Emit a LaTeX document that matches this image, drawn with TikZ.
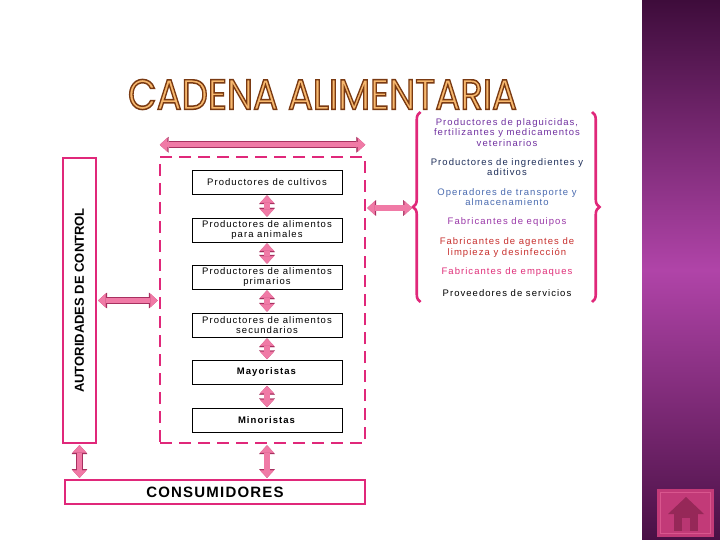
\documentclass[tikz,border=0pt]{standalone}
\usepackage{fontspec}
\setmainfont{Liberation Sans}
\newfontfamily\titlefont{Poppins}
\usepackage{graphicx}
\usetikzlibrary{arrows.meta, decorations.pathreplacing, positioning}
\definecolor{chainpink}{HTML}{E0287A}
\definecolor{arrowfill}{HTML}{F07AA6}
\definecolor{arrowedge}{HTML}{A83060}
\definecolor{titlefill}{HTML}{F7B86E}
\definecolor{sidetop}{HTML}{3E0C3B}
\definecolor{sidemid}{HTML}{B044A8}
\definecolor{sidebot}{HTML}{4A1045}
\definecolor{homefill}{HTML}{C23A78}
\definecolor{homeedge}{HTML}{D9568E}
\definecolor{housecol}{HTML}{962858}
\definecolor{txtpurple}{HTML}{7030A0}
\definecolor{txtnavy}{HTML}{1F2F5A}
\definecolor{txtblue}{HTML}{4A6BB0}
\definecolor{txtviolet}{HTML}{9A38A8}
\definecolor{txtred}{HTML}{C8302E}
\definecolor{txtpink}{HTML}{E0307A}
% outlined letters for the title
\newcommand\outlined[1]{\special{pdf:literal 2 Tr 0.35 w 0.478 0.227 0.071 RG}#1\special{pdf:literal 0 Tr}}
\begin{document}
\begin{tikzpicture}[x=1pt, y=-1pt,
    stage/.style={draw=black, line width=0.6pt, fill=white, minimum width=150pt, minimum height=24pt,
      inner sep=1pt, align=center, font=\fontsize{9.5}{10.5}\selectfont\addfontfeature{LetterSpace=11}},
    supplier/.style={align=center, inner sep=0.5pt, font=\fontsize{9.5}{10.6}\selectfont\addfontfeature{LetterSpace=11}},
    pinkbox/.style={draw=chainpink, line width=2.2pt, fill=white, inner sep=1pt},
    biarrow/.style={arrowfill, line width=5.5pt, shorten <=1pt, shorten >=1pt,
      {Triangle[length=7.5pt,width=14pt,line width=0.4pt]}-{Triangle[length=7.5pt,width=14pt,line width=0.4pt]},
      preaction={draw=arrowedge, line width=6.9pt,
        {Triangle[length=8.9pt,width=15.8pt,line width=0.4pt]}-{Triangle[length=8.9pt,width=15.8pt,line width=0.4pt]}}},
    curly/.style={draw=chainpink, line width=2.6pt, decorate, decoration={brace, amplitude=7.5pt}}]
	\fill[white] (0,0) rectangle (720,540);
	\useasboundingbox (0,0) rectangle (720,540);
	% side band and home button
	\shade[top color=sidetop, bottom color=sidebot, middle color=sidemid] (642,0) rectangle (720,540);
	\fill[homefill] (657,489) rectangle (714,537);
	\draw[homeedge, line width=1.2pt] (660.5,492.5) rectangle (710.5,533.5);
	\fill[housecol] (686,497) -- (668,514) -- (704,514) -- cycle;
	\fill[housecol] (674,512) rectangle (698,531);
	\fill[homefill!80!housecol] (682,518) rectangle (690,531);
	% title
	\node[inner sep=0pt] (title) at (322.5,94.5) {\resizebox{389pt}{30pt}{\titlefont\color{titlefill}\outlined{CADENA ALIMENTARIA}}};
	% control and consumers
	\node[pinkbox, rotate=90, minimum width=285pt, minimum height=33pt, font=\bfseries\fontsize{13}{13}\selectfont] (ctl) at (79.5,300.5) {AUTORIDADES DE CONTROL};
	\node[pinkbox, minimum width=300pt, minimum height=24pt, font=\bfseries\fontsize{15}{15}\selectfont\addfontfeature{LetterSpace=8}] (cons) at (215,492) {CONSUMIDORES};
	% chain
	\node[draw=chainpink, line width=2.5pt, dash pattern=on 12pt off 7pt, minimum width=205pt, minimum height=286pt] (chain) at (262.5,300) {};
	\node[stage] (cult) at (267,182) {Productores de cultivos};
	\node[stage] (anim) at (267,230) {Productores de alimentos\\para animales};
	\node[stage] (prim) at (267,277) {Productores de alimentos\\primarios};
	\node[stage] (sec) at (267,325) {Productores de alimentos\\secundarios};
	\node[stage] (may) at (267,372.5) {\textbf{Mayoristas}};
	\node[stage] (minor) at (267,420.5) {\textbf{Minoristas}};
	\draw[biarrow] (cult) -- (anim);
	\draw[biarrow] (anim) -- (prim);
	\draw[biarrow] (prim) -- (sec);
	\draw[biarrow] (sec) -- (may);
	\draw[biarrow] (may) -- (minor);
	% suppliers
	\node[supplier, txtpurple] (pest) at (507,132.5) {Productores de plaguicidas,\\fertilizantes y medicamentos\\veterinarios};
	\node[supplier, txtnavy] (ingr) at (507,167) {Productores de ingredientes y\\aditivos};
	\node[supplier, txtblue] (trans) at (507,197) {Operadores de transporte y\\almacenamiento};
	\node[supplier, txtviolet] (equip) at (507,222) {Fabricantes de equipos};
	\node[supplier, txtred] (clean) at (507,247.5) {Fabricantes de agentes de\\limpieza y desinfecci\'on};
	\node[supplier, txtpink] (pack) at (507,272) {Fabricantes de empaques};
	\node[supplier, black] (serv) at (507,293) {Proveedores de servicios};
	\draw[curly] (420.5,302) -- (420.5,112);
	\draw[curly] (592,112) -- (592,302);
	\coordinate (tip) at (413,208);
	% links
	\draw[biarrow] ([yshift=11pt]chain.north west) -- ([yshift=11pt]chain.north east);
	\draw[biarrow] (ctl.south) -- (ctl.south -| chain.west);
	\draw[biarrow] (chain.east |- tip) -- (tip);
	\draw[biarrow] (ctl.west) -- (ctl.west |- cons.north);
	\draw[biarrow] (minor.south |- chain.south) -- (minor.south |- cons.north);
\end{tikzpicture}
\end{document}
